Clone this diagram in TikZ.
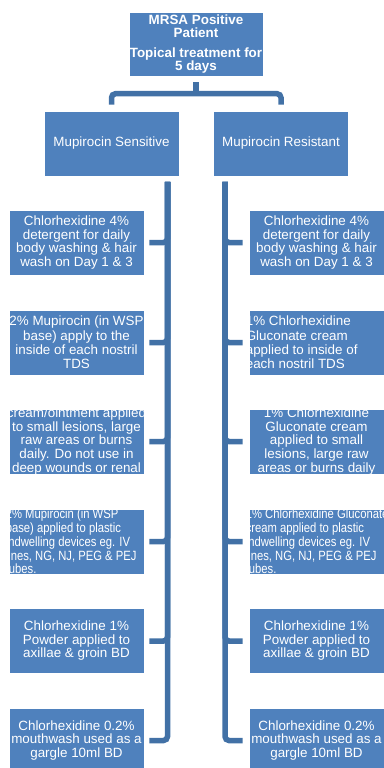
\documentclass[tikz,border=0pt]{standalone}
\usepackage{fontspec}
\setmainfont{Liberation Sans}
\newfontfamily\condfont[FakeStretch=0.84]{Liberation Sans}
\definecolor{boxblue}{RGB}{79,129,189}
\definecolor{connblue}{RGB}{66,113,166}
\begin{document}
\begin{tikzpicture}[x=1pt,y=-1pt,
 box/.style={draw=white, line width=0.8pt, fill=boxblue, minimum width=135pt, minimum height=65pt, inner sep=0pt, text=white, align=center, font=\fontsize{13.4}{13.5}\selectfont},
 txt/.style={text=white, inner sep=0pt, align=center, font=\fontsize{13.4}{13.5}\selectfont},
 lefttxt/.style={text=white, inner sep=0pt, align=left, anchor=west, font=\fontsize{13.4}{14.3}\selectfont},
 cond/.style={text=white, inner sep=0pt, align=left, anchor=west, font=\condfont\fontsize{13.4}{13.75}\selectfont},
 conn/.style={draw=connblue, line width=5.5pt, rounded corners=4pt}]
\useasboundingbox (0,0) rectangle (383,768);

% top
\node[box, minimum width=134pt, minimum height=64pt, font=\bfseries\fontsize{13.4}{13.3}\selectfont] (top) at (196,44) {MRSA Positive\\Patient\\[6.4pt]Topical treatment for\\5 days};
\node[box] (sens) at (111.5,143.5) {Mupirocin Sensitive};
\node[box] (res) at (281,143.5) {Mupirocin Resistant};

% left column
\node[box] (l1) at (76.5,242.5) {Chlorhexidine 4\%\\detergent for daily\\body washing \& hair\\wash on Day 1 \& 3};
\node[box] (l2) at (76.5,342.5) {};
\begin{scope}
\clip (l2.south west) rectangle (l2.north east);
\node[txt, font=\fontsize{13.4}{14.3}\selectfont] at (l2.center) {2\% Mupirocin (in WSP\\base) apply to the\\inside of each nostril\\TDS};
\end{scope}
\node[box] (l3) at (76.5,441.5) {};
\begin{scope}
\clip (l3.south west) rectangle (l3.north east);
\node[txt, font=\fontsize{13.4}{13.9}\selectfont] at (l3.center) {cream/ointment applied\\to small lesions, large\\raw areas or burns\\daily. Do not use in\\deep wounds or renal};
\end{scope}
\node[box] (l4) at (76.5,541.5) {};
\begin{scope}
\clip (l4.south west) rectangle (l4.north east);
\node[cond] at ([xshift=-3pt]l4.west) {2\% Mupirocin (in WSP\\base) applied to plastic\\indwelling devices eg. IV\\lines, NG, NJ, PEG \& PEJ\\tubes.};
\end{scope}
\node[box] (l5) at (76.5,641) {Chlorhexidine 1\%\\Powder applied to\\axillae \& groin BD};
\node[box] (l6) at (76.5,740.5) {Chlorhexidine 0.2\%\\mouthwash used as a\\gargle 10ml BD};

% right column
\node[box] (r1) at (316.5,242.5) {Chlorhexidine 4\%\\detergent for daily\\body washing \& hair\\wash on Day 1 \& 3};
\node[box] (r2) at (316.5,342.5) {};
\begin{scope}
\clip (r2.south west) rectangle (r2.north east);
\node[lefttxt] at ([xshift=-3pt]r2.west) {1\% Chlorhexidine\\Gluconate cream\\applied to inside of\\each nostril TDS};
\end{scope}
\node[box] (r3) at (316.5,441.5) {};
\begin{scope}
\clip (r3.south west) rectangle (r3.north east);
\node[txt, font=\fontsize{13.4}{13.9}\selectfont] at (r3.center) {1\% Chlorhexidine\\Gluconate cream\\applied to small\\lesions, large raw\\areas or burns daily};
\end{scope}
\node[box] (r4) at (316.5,541.5) {};
\begin{scope}
\clip (r4.south west) rectangle (r4.north east);
\node[cond] at ([xshift=-3pt]r4.west) {1\% Chlorhexidine Gluconate\\cream applied to plastic\\indwelling devices eg. IV\\lines, NG, NJ, PEG \& PEJ\\tubes.};
\end{scope}
\node[box] (r5) at (316.5,641) {Chlorhexidine 1\%\\Powder applied to\\axillae \& groin BD};
\node[box] (r6) at (316.5,740.5) {Chlorhexidine 0.2\%\\mouthwash used as a\\gargle 10ml BD};

% connectors
\coordinate (bar) at (196,93.7);
\draw[conn] ([yshift=6pt]sens.north) |- (bar) -| ([yshift=6pt]res.north);
\draw[conn] ([yshift=-6pt]top.south) -- (bar);
\coordinate (lt) at ([xshift=56pt,yshift=-5.5pt]sens.south);
\coordinate (rt) at ([xshift=-56pt,yshift=-5.5pt]res.south);
\foreach \i in {1,...,6} {
  \draw[conn] (lt) |- ([xshift=5pt]l\i.east);
  \draw[conn] (rt) |- ([xshift=-6pt]r\i.west);
}
\end{tikzpicture}
\end{document}
